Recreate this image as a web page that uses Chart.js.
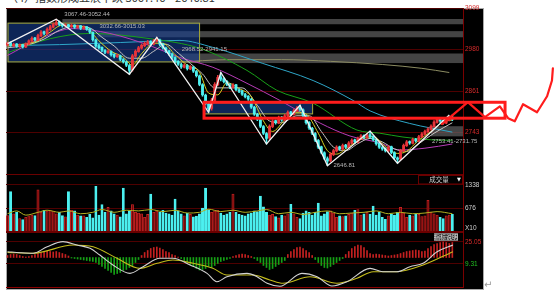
<!DOCTYPE html>
<html>
<head>
<meta charset="utf-8">
<script src="https://cdn.jsdelivr.net/npm/chart.js@4.4.1/dist/chart.umd.min.js"></script>
<style>
html, body { margin: 0; padding: 0; background: #fff; width: 558px; height: 297px; overflow: hidden; position: relative; }
#bg { position: absolute; left: 6px; top: 8px; width: 478px; height: 282px; background: #000; border: 1px solid #a8a8a8; box-sizing: border-box; }
canvas { position: absolute; left: 0; }
#cap { position: absolute; left: 7px; top: -11px; font: 11px "Noto Sans CJK SC", sans-serif; color: #333; white-space: nowrap; }
#ret { position: absolute; left: 484px; top: 279px; font: 10px "DejaVu Sans", sans-serif; color: #999; }
</style>
</head>
<body>
<div id="cap">（4）指数形成五浪下跌 3067.46—2646.81</div>
<div id="bg"></div>
<canvas id="main" width="558" height="175" style="top:0"></canvas>
<canvas id="vol" width="558" height="58" style="top:174px"></canvas>
<canvas id="macd" width="558" height="65" style="top:232px"></canvas>
<div id="ret">↵</div>
<script>
// ---- candles (60 min bars) ----
const opens = [
  2993,2999,2991,2996,2989,2994,2987,2996,3004,3013,
  3007,3019,3031,3025,3037,3044,3051,3059,3053,3047,
  3051,3045,3050,3043,3048,3040,3045,3039,3029,3007,
  2991,2986,2977,2971,2974,2966,2959,2962,2951,2944,
  2934,2922,2961,2974,2984,2991,2997,3003,2995,3004,
  3007,2996,2984,2976,2967,2957,2946,2937,2929,2934,
  2924,2929,2917,2904,2879,2849,2824,2811,2834,2879,
  2901,2896,2889,2879,2871,2879,2864,2861,2851,2846,
  2837,2814,2794,2779,2759,2739,2726,2759,2776,2769,
  2786,2777,2789,2801,2794,2804,2813,2807,2789,2771,
  2754,2739,2719,2701,2684,2667,2661,2679,2689,2701,
  2694,2706,2699,2711,2721,2714,2724,2733,2727,2736,
  2731,2721,2711,2699,2696,2689,2701,2684,2669,2666,
  2689,2704,2716,2711,2723,2717,2729,2737,2744,2751,
  2759,2771,2781,2776,2769,2777,2786
];
const highs = [
  3001,3002,2998,2997,2996,2995,2999,3008,3016,3015,
  3024,3034,3033,3042,3049,3056,3067,3062,3055,3054,
  3052,3053,3051,3050,3049,3048,3046,3041,3031,3010,
  2995,2988,2980,2979,2976,2968,2967,2964,2954,2947,
  2937,2966,2979,2989,2996,3002,3006,3005,3009,3015,
  3010,2998,2987,2978,2970,2960,2948,2940,2939,2937,
  2934,2932,2920,2907,2882,2852,2827,2840,2885,2906,
  2914,2899,2891,2882,2882,2880,2867,2863,2854,2848,
  2840,2817,2797,2782,2762,2742,2764,2779,2778,2789,
  2788,2794,2804,2803,2809,2816,2820,2810,2792,2773,
  2757,2742,2722,2703,2687,2672,2684,2694,2704,2703,
  2709,2708,2716,2724,2723,2729,2736,2735,2739,2746,
  2733,2724,2713,2702,2698,2704,2703,2687,2672,2694,
  2709,2719,2718,2726,2725,2734,2742,2749,2756,2764,
  2776,2784,2783,2778,2782,2789,2792
];
const lows = [
  2990,2989,2988,2986,2986,2984,2985,2994,3002,3004,
  3005,3017,3022,3023,3035,3042,3049,3048,3044,3045,
  3042,3043,3040,3041,3037,3038,3035,3026,3004,2986,
  2981,2974,2968,2969,2961,2956,2957,2948,2941,2931,
  2909,2918,2958,2972,2981,2988,2994,2992,2993,3001,
  2991,2981,2971,2964,2954,2941,2934,2926,2927,2921,
  2922,2914,2901,2876,2846,2821,2800,2806,2830,2876,
  2890,2884,2876,2868,2869,2861,2856,2848,2841,2834,
  2811,2791,2776,2756,2736,2709,2722,2756,2766,2767,
  2774,2775,2787,2791,2792,2802,2804,2786,2766,2751,
  2736,2716,2696,2681,2664,2647,2658,2676,2686,2691,
  2692,2696,2697,2709,2711,2712,2722,2724,2725,2726,
  2718,2706,2696,2691,2686,2687,2681,2666,2654,2663,
  2687,2702,2708,2709,2714,2715,2727,2735,2742,2749,
  2757,2769,2771,2766,2767,2775,2776
];
const closes = [
  2998,2992,2995,2990,2993,2988,2996,3005,3012,3008,
  3020,3030,3026,3038,3045,3052,3058,3052,3048,3050,
  3046,3049,3044,3047,3041,3044,3038,3030,3008,2990,
  2985,2978,2972,2975,2965,2960,2963,2952,2945,2935,
  2920,2962,2975,2985,2992,2998,3002,2996,3005,3008,
  2995,2985,2975,2968,2958,2945,2938,2930,2935,2925,
  2930,2918,2905,2880,2850,2825,2810,2835,2880,2900,
  2895,2888,2880,2872,2878,2865,2860,2852,2845,2838,
  2815,2795,2780,2760,2740,2725,2760,2775,2770,2785,
  2778,2790,2800,2795,2805,2812,2808,2790,2770,2755,
  2740,2720,2700,2685,2668,2660,2680,2690,2700,2695,
  2705,2700,2712,2720,2715,2725,2732,2728,2735,2730,
  2722,2710,2700,2695,2690,2700,2685,2670,2665,2690,
  2705,2715,2712,2722,2718,2730,2738,2745,2752,2760,
  2772,2780,2775,2770,2778,2785,2780
];
const volumes = [
  470,1150,520,560,380,350,420,460,480,470,
  1200,560,620,600,610,580,520,560,470,430,
  1150,620,600,480,460,460,420,500,400,1300,
  480,780,560,700,600,520,480,430,1250,520,
  600,780,560,540,520,420,500,1080,560,600,
  560,620,540,520,480,940,600,520,460,540,
  500,430,450,520,680,1250,640,560,600,620,
  540,480,520,560,1080,560,500,480,460,520,
  540,600,580,1020,720,560,480,500,440,400,
  480,460,520,790,520,420,380,540,600,560,
  480,560,820,460,520,580,600,540,420,460,
  440,460,500,540,620,640,480,520,560,500,
  740,480,560,420,360,460,520,480,560,700,
  540,420,480,460,520,500,440,460,900,560,
  520,480,420,380,460,480,500
];
const macdHist = [
  2,3,3.5,3,2,1,
  0.5,1,2,3,4,
  5,6,6.5,6,5.5,6,5,4,3,1.5,
  -0.5,-1,-1.5,-2,-2.5,-3,-3.5,-4,-5,
  -7,-9,-11,-13,-15,-17,-16,-15,-13,-12,-10,-8,-5,-2,
  2,5,7,9,10,10.5,9.5,8,6,5,3,2,0.5,
  -1,-3,-5,-7,-9,-11,-12.5,-12,-11,-9,-10,-8,-6,-4,-3,-2,-1,
  1,2,3,3.5,3,2,1,
  -1,-3,-5,-8,-10,-12,-11,-9,-7,-5,-3,
  3,6,8,10,10.5,9,7,5,2,
  -2,-5,-8,-10,-10.5,-9,-7,-5,-3,-1,
  3,6,9,11,12.5,12,10,7,4,
  3,3.5,3,2.5,2,1.5,2,2.5,3,
  4,5,6,6.5,7,7.5,7,6,6.5,
  9,11,13,14,15,15.5,15,14,15
];

// ---- lines: [bar index, value] ----
const maYellow = [[0,2990],[5,2995],[10,3005],[14,3030],[18,3050],[22,3048],[26,3042],[30,3005],[34,2975],[38,2958],[41,2935],[44,2968],[48,2998],[51,2998],[55,2965],[59,2935],[63,2915],[66,2855],[69,2850],[72,2885],[76,2868],[80,2845],[84,2775],[87,2745],[91,2778],[95,2800],[98,2795],[102,2740],[105,2690],[108,2680],[112,2702],[116,2722],[120,2730],[124,2702],[128,2682],[131,2688],[135,2720],[139,2745],[143,2772],[146,2778]];
const maWhite = [[0,2985],[6,2992],[12,3010],[17,3035],[22,3047],[27,3042],[31,3015],[35,2990],[40,2955],[44,2955],[48,2975],[52,2995],[56,2970],[60,2940],[64,2910],[68,2870],[72,2870],[77,2870],[82,2820],[86,2775],[90,2770],[95,2790],[99,2790],[103,2745],[107,2700],[111,2690],[115,2710],[119,2725],[123,2715],[127,2695],[131,2688],[135,2710],[140,2740],[146,2770]];
const maPurple = [[0,2963],[10.7,3011],[21.5,3040],[33.6,3026],[46.8,2991],[56.6,2957],[67.4,2929],[78.6,2883],[89.4,2834],[102.6,2769],[112.4,2732],[122.2,2712],[128.8,2692],[137,2697],[146,2709]];
const maGreen = [[0,2971],[14,3011],[27,3026],[46.8,3011],[63.2,2983],[78.6,2920],[88.4,2863],[100.3,2826],[114.7,2749],[122.2,2740],[129.8,2729],[142.9,2720],[146,2720]];
const maCyan = [[0,2991],[17,2994],[37,3000],[56.6,3006],[67.4,2986],[83.8,2940],[100.3,2891],[113.4,2834],[119,2804],[132,2768],[146,2743]];
const maOlive = [[55,2943],[73,2951],[90,2951],[106,2946],[123,2937],[136,2926],[145,2914]];
const zigzag = [[0,2997],[16,3067],[40,2909],[49,3015],[66,2800],[70,2914],[85,2709],[96,2820],[105,2647],[119,2746],[128,2654],[145,2792]];
const volMa = [[0,520],[3,600],[6,480],[10,560],[13,620],[17,560],[20,600],[24,520],[28,560],[31,640],[35,560],[39,620],[43,600],[47,640],[51,580],[55,620],[59,540],[63,560],[66,650],[70,580],[74,620],[78,560],[82,600],[85,640],[89,520],[93,560],[97,500],[101,560],[105,600],[109,520],[113,540],[117,560],[121,600],[125,520],[129,560],[133,520],[137,540],[141,580],[146,520]];
const difPts = [[0,18.1],[4.1,17.4],[8.4,17.0],[13,21.7],[18.2,25.3],[22.8,22.9],[27.1,20.5],[30.3,15.7],[34.6,8.6],[40.2,2.6],[44.5,7.4],[50,13.4],[54.3,13.4],[59.9,8.6],[65.5,2.6],[68.7,-3.4],[72,0.2],[78.6,2.6],[81.9,0.2],[85.2,-4.5],[89.4,-6.6],[96.6,2.6],[101.6,0.2],[106.5,-6.4],[111.4,-3.4],[119,6.2],[123.2,3.8],[127.8,3.8],[132.1,7.4],[136.4,9.8],[141,18.1],[146.2,22.9]];
const deaPts = [[0,17.6],[8.4,17.0],[21.5,22.9],[28.1,21.7],[35.9,13.4],[43.5,6.2],[49.1,9.8],[54.3,12.2],[60.9,9.8],[67.4,6.2],[72,1.4],[80.6,1.4],[86.1,-2.1],[90.4,-4.5],[99.3,0.2],[108.1,-4.5],[114.7,-0.9],[120,3.8],[127.8,3.8],[136.4,8.6],[146.2,18.1]];

// ---- axes / labels ----
const priceTicks = [2743, 2861, 2980, 3099];
const volTicks = [676, 1338];
const macdTicks = [9.31, 25.05];
const dateTicks = [9, 23, 34.6, 48.4, 60.5, 73.9, 86.1, 99.9, 111.7, 125.5, 137.6];
const dateLabels = ['04-14','04-19','04-22','04-27','05-03','05-06','05-11','05-16','05-19','05-24','05-27'];

// ---- gray price bands, boxes, red hand annotation ----
const bandHi = [3067.46, 3032.66, 2968.52, 2760];
const bandLo = [3052.44, 3015.03, 2941.15, 2731];
const bandFrom = [18, 29.5, 56.5, 139];
const bandText = ['3067.46-3052.44', '3032.66-3015.03', '2968.52-2941.15', '2753.41-2731.75'];
const blueBoxes = [[0, 63.2, 3057, 2943], [64.5, 100.3, 2828.7, 2794]];
const redRect = [64.5, 163.3, 2828.7, 2783];
const redPath = [[142.6,2766],[151.1,2829],[156.7,2786],[161.6,2817],[164.3,2783],[166.5,2774],[169.2,2823],[173.8,2800],[177.1,2846],[178.7,2891],[179,2926]];

[opens, highs, lows, volumes, macdHist].forEach((a, k) => {
  if (a.length !== closes.length) throw new Error('length mismatch ' + k + ': ' + a.length);
});

const UP = '#e8343a', DN = '#4cf0f0';
const isUp = i => closes[i] >= opens[i];
const pts = list => list.map(p => ({ x: p[0], y: p[1] }));
const FONT = 'Liberation Sans';

function xScale(show) {
  return { type: 'linear', min: -0.5, max: 149.5, offset: false, display: show };
}
function rightAxis(min, max, ticks, color, fmt) {
  return {
    position: 'right', min: min, max: max,
    border: { color: '#7a0000' },
    grid: { color: '#4e0000', drawTicks: false },
    ticks: { font: { size: 6.5, family: FONT }, padding: 2, color: color, autoSkip: false, callback: fmt },
    afterBuildTicks(a) { a.ticks = ticks.map(v => ({ value: v })); },
    afterFit(a) { a.width = 20; a.paddingTop = 0; a.paddingBottom = 0; }
  };
}
function maLine(list, color, order) {
  return { type: 'line', data: pts(list), borderColor: color, borderWidth: 1, pointRadius: 0,
           cubicInterpolationMode: 'monotone', order: order };
}
const common = {
  responsive: false, animation: false, events: [],
  layout: { padding: { left: 6, right: 75, top: 0, bottom: 0 } },
  plugins: { legend: { display: false }, tooltip: { enabled: false } },
  datasets: { bar: { grouped: false } }
};

const mainDecor = {
  id: 'mainDecor',
  beforeDatasetsDraw(chart) {
    const { ctx, chartArea: a, scales: { x, y } } = chart;
    ctx.save();
    ctx.beginPath(); ctx.rect(a.left, a.top, a.right - a.left, a.bottom - a.top); ctx.clip();
    bandFrom.forEach((f, k) => {
      const x0 = x.getPixelForValue(f), y0 = y.getPixelForValue(bandHi[k]), y1 = y.getPixelForValue(bandLo[k]);
      ctx.fillStyle = 'rgba(105,105,105,0.65)';
      ctx.fillRect(x0, y0, a.right - x0, y1 - y0);
    });
    blueBoxes.forEach(b => {
      const x0 = x.getPixelForValue(b[0]), x1 = x.getPixelForValue(b[1]);
      const y0 = y.getPixelForValue(b[2]), y1 = y.getPixelForValue(b[3]);
      ctx.fillStyle = 'rgba(22,62,145,0.6)';
      ctx.fillRect(x0, y0, x1 - x0, y1 - y0);
      ctx.strokeStyle = '#a8a834'; ctx.lineWidth = 1;
      ctx.strokeRect(x0 + 0.5, y0 + 0.5, x1 - x0 - 1, y1 - y0 - 1);
    });
    ctx.restore();
  },
  afterDatasetsDraw(chart) {
    const { ctx, scales: { x, y } } = chart;
    ctx.save();
    ctx.font = '6px "' + FONT + '"';
    ctx.fillStyle = '#b8b8b8';
    ctx.textBaseline = 'alphabetic';
    bandText.forEach((t, k) => {
      const tx = x.getPixelForValue(bandFrom[k]);
      const ty = k === 3 ? y.getPixelForValue(bandLo[k]) + 7 : y.getPixelForValue(bandHi[k]) - 3;
      ctx.fillText(t, tx + (k === 3 ? 1 : 2), ty);
    });
    ctx.fillText('2646.81', x.getPixelForValue(105) + 6, y.getPixelForValue(2646.81) + 1);
    ctx.restore();
  },
  afterDraw(chart) {
    const { ctx, scales: { x, y } } = chart;
    ctx.save();
    ctx.strokeStyle = '#ff1c1c';
    ctx.lineWidth = 3;
    const rx0 = x.getPixelForValue(redRect[0]), rx1 = x.getPixelForValue(redRect[1]);
    const ry0 = y.getPixelForValue(redRect[2]), ry1 = y.getPixelForValue(redRect[3]);
    ctx.strokeRect(rx0, ry0, rx1 - rx0, ry1 - ry0);
    ctx.lineWidth = 2.2; ctx.lineJoin = 'round'; ctx.lineCap = 'round';
    ctx.beginPath();
    redPath.forEach((p, k) => {
      const px = x.getPixelForValue(p[0]), py = y.getPixelForValue(p[1]);
      if (k === 0) ctx.moveTo(px, py); else ctx.lineTo(px, py);
    });
    ctx.stroke();
    ctx.restore();
  }
};

new Chart(document.getElementById('main'), {
  type: 'bar',
  data: { datasets: [
    { type: 'line', data: pts(zigzag), borderColor: '#f2f2f2', borderWidth: 1.3, pointRadius: 0, order: 0 },
    { data: closes.map((c, i) => ({ x: i, y: [opens[i], c] })), barThickness: 2.2, minBarLength: 1,
      backgroundColor: ctx => isUp(ctx.dataIndex) ? UP : DN, order: 4 },
    { data: closes.map((c, i) => ({ x: i, y: [lows[i], highs[i]] })), barThickness: 0.9,
      backgroundColor: ctx => isUp(ctx.dataIndex) ? UP : DN, order: 5 },
    maLine(maYellow, '#d8d020', 6),
    maLine(maWhite, '#c4c4c4', 6),
    maLine(maPurple, '#b83cb8', 7),
    maLine(maGreen, '#18a018', 7),
    maLine(maCyan, '#2ea6c8', 7),
    maLine(maOlive, '#8c8c62', 7)
  ] },
  options: Object.assign({}, common, {
    layout: { padding: { left: 6, right: 75, top: 8, bottom: 1 } },
    scales: {
      x: xScale(false),
      y: rightAxis(2623, 3099, priceTicks, '#d42a2a', v => String(v))
    }
  }),
  plugins: [mainDecor]
});

const volDecor = {
  id: 'volDecor',
  afterDraw(chart) {
    const { ctx, chartArea: a } = chart;
    ctx.save();
    ctx.strokeStyle = '#6a0000'; ctx.lineWidth = 1;
    ctx.beginPath();
    ctx.moveTo(a.left, a.top + 0.5); ctx.lineTo(a.right, a.top + 0.5);
    ctx.moveTo(a.left, a.bottom - 0.5); ctx.lineTo(a.right, a.bottom - 0.5);
    ctx.stroke();
    ctx.fillStyle = '#000';
    ctx.fillRect(a.right - 45, a.top + 1, 45, 9);
    ctx.strokeStyle = '#6a0000';
    ctx.strokeRect(a.right - 44.5, a.top + 1.5, 44, 8.5);
    ctx.font = '6.5px "Noto Sans CJK SC"';
    ctx.fillStyle = '#cfcfcf'; ctx.textAlign = 'center'; ctx.textBaseline = 'middle';
    ctx.fillText('成交量', a.right - 24, a.top + 6);
    ctx.font = '5px "DejaVu Sans"'; ctx.fillStyle = '#fff';
    ctx.fillText('▼', a.right - 4, a.top + 5.5);
    ctx.font = '6.5px "' + FONT + '"'; ctx.fillStyle = '#cfcfcf'; ctx.textAlign = 'left';
    ctx.fillText('X10', a.right + 2, a.bottom - 4);
    ctx.restore();
  }
};

new Chart(document.getElementById('vol'), {
  type: 'bar',
  data: { datasets: [
    { type: 'line', data: pts(volMa), borderColor: '#b4b020', borderWidth: 1, pointRadius: 0,
      cubicInterpolationMode: 'monotone', order: 0 },
    { data: volumes.map((v, i) => ({ x: i, y: v })), barThickness: 2.3, borderWidth: 0.8,
      backgroundColor: ctx => isUp(ctx.dataIndex) ? '#6c0a0a' : DN,
      borderColor: ctx => isUp(ctx.dataIndex) ? '#cc2424' : DN, order: 2 }
  ] },
  options: Object.assign({}, common, {
    scales: {
      x: xScale(false),
      y: rightAxis(0, 1651, volTicks, '#cfcfcf', v => String(v))
    }
  }),
  plugins: [volDecor]
});

const macdDecor = {
  id: 'macdDecor',
  afterDraw(chart) {
    const { ctx, chartArea: a } = chart;
    ctx.save();
    ctx.strokeStyle = '#6a0000'; ctx.lineWidth = 1;
    ctx.beginPath(); ctx.moveTo(a.left, a.top + 0.5); ctx.lineTo(a.right, a.top + 0.5); ctx.stroke();
    ctx.fillStyle = '#3c3c3c';
    ctx.fillRect(a.right - 29, a.top + 1, 24, 8);
    ctx.strokeStyle = '#7a7a7a';
    ctx.strokeRect(a.right - 28.5, a.top + 1.5, 23, 7);
    ctx.font = '6px "Noto Sans CJK SC"';
    ctx.fillStyle = '#e0e0e0'; ctx.textAlign = 'center'; ctx.textBaseline = 'middle';
    ctx.fillText('指标说明', a.right - 17, a.top + 5);
    ctx.restore();
  }
};

new Chart(document.getElementById('macd'), {
  type: 'bar',
  data: { datasets: [
    { type: 'line', data: pts(difPts), yAxisID: 'yd', borderColor: '#d2d2d2', borderWidth: 1.1,
      pointRadius: 0, cubicInterpolationMode: 'monotone', order: 0 },
    { type: 'line', data: pts(deaPts), yAxisID: 'yd', borderColor: '#c4bc1c', borderWidth: 1.1,
      pointRadius: 0, cubicInterpolationMode: 'monotone', order: 1 },
    { data: macdHist.map((v, i) => ({ x: i, y: v })), yAxisID: 'yh', barThickness: 1,
      backgroundColor: ctx => macdHist[ctx.dataIndex] >= 0 ? '#c42020' : '#16a016', order: 3 }
  ] },
  options: Object.assign({}, common, {
    scales: {
      x: {
        type: 'linear', min: -0.5, max: 149.5, offset: false,
        border: { color: '#8a0000' }, grid: { display: false },
        ticks: { font: { size: 6, family: FONT }, color: '#a01818', padding: 1, autoSkip: false, maxRotation: 0,
                 callback: v => dateLabels[dateTicks.indexOf(v)] || '' },
        afterBuildTicks(a) { a.ticks = dateTicks.map(v => ({ value: v })); },
        afterFit(a) { a.height = 10; }
      },
      yd: rightAxis(-7.15, 32.2, macdTicks, ctx => ctx.tick && ctx.tick.value > 20 ? '#d42a2a' : '#22c022',
                    v => v.toFixed(2)),
      yh: { display: false, min: -29.5, max: 25.5 }
    }
  }),
  plugins: [macdDecor]
});
</script>
</body>
</html>
